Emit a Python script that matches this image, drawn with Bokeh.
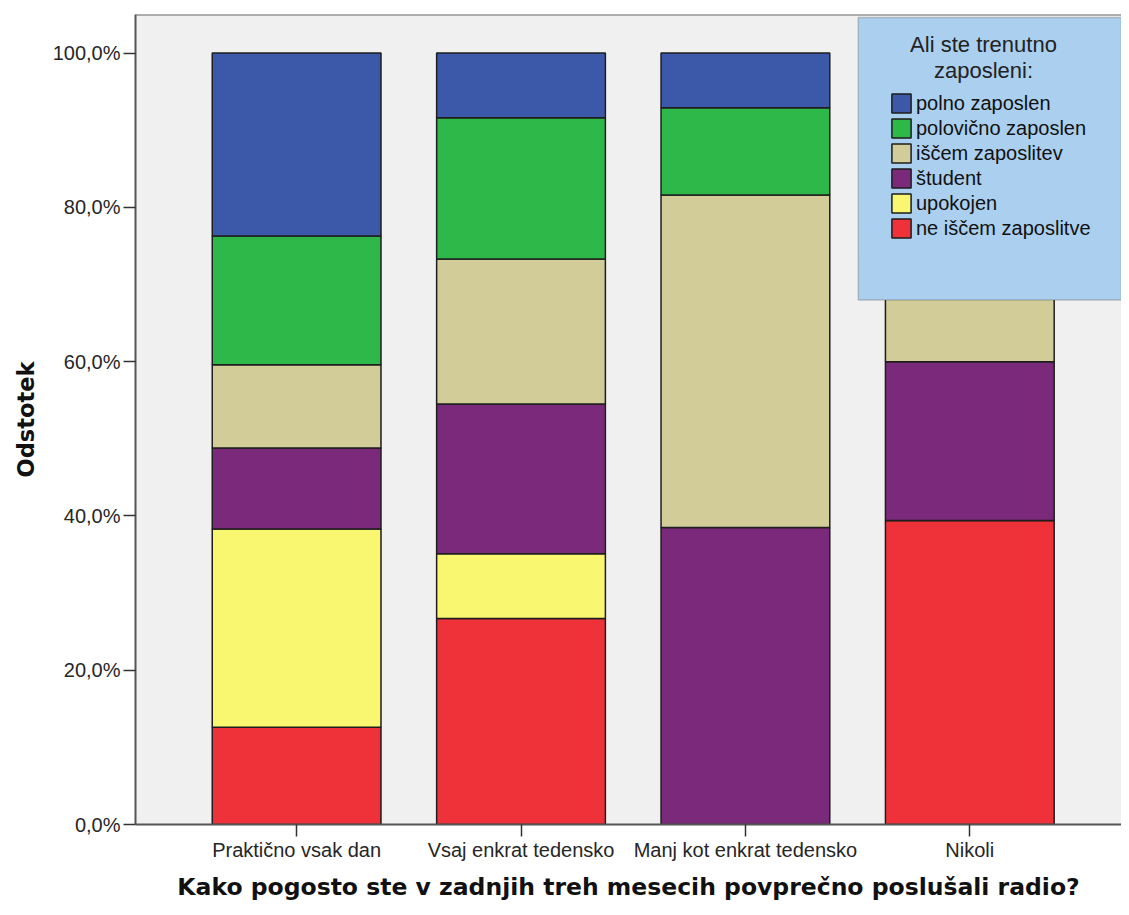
from bokeh.plotting import figure
from bokeh.models import (ColumnDataSource, Range1d, FixedTicker, Legend, LegendItem,
                          BoxAnnotation, Label, Span)
from bokeh.embed import file_html
from bokeh.resources import INLINE

# ---- data ----
categories = ["Praktično vsak dan", "Vsaj enkrat tedensko", "Manj kot enkrat tedensko", "Nikoli"]
series_names = ["ne iščem zaposlitve", "upokojen", "študent", "iščem zaposlitev",
                "polovično zaposlen", "polno zaposlen"]
ne_iscem = [12.6, 26.7, 0.0, 39.4]
upokojen = [25.7, 8.4, 0.0, 0.0]
student = [10.5, 19.4, 38.5, 20.6]
iscem = [10.8, 18.8, 43.1, 40.0]
polovicno = [16.7, 18.3, 11.3, 0.0]
polno = [23.7, 8.4, 7.1, 0.0]
colors = ["#ef323a", "#f9f66f", "#7b2a7b", "#d2cd98", "#2eb84a", "#3c58a9"]
y_ticks = [0, 20, 40, 60, 80, 100]
y_tick_labels = ["0,0%", "20,0%", "40,0%", "60,0%", "80,0%", "100,0%"]
legend_title = ["Ali ste trenutno", "zaposleni:"]
x_title = "Kako pogosto ste v zadnjih treh mesecih povprečno poslušali radio?"
y_title = "Odstotek"

keys = ["s0", "s1", "s2", "s3", "s4", "s5"]
xpos = list(range(len(categories)))
src = ColumnDataSource(dict(x=xpos, s0=ne_iscem, s1=upokojen, s2=student, s3=iscem,
                            s4=polovicno, s5=polno))

FONT = "Liberation Sans"
BOLD = "DejaVu Sans"

p = figure(width=1121, height=907, output_backend="svg", toolbar_location=None,
           x_range=Range1d(-0.718, 3.676), y_range=Range1d(0, 105),
           min_border_left=135, min_border_right=0, min_border_top=14, min_border_bottom=83)
p.background_fill_color = "#f0f0f0"
p.border_fill_color = "white"
p.outline_line_color = None
p.grid.visible = False

rs = p.vbar_stack(keys, x="x", width=0.752, source=src, color=colors,
                  line_color="#1e1e1e", line_width=1.5)

# axes
p.yaxis.ticker = FixedTicker(ticks=y_ticks)
p.yaxis.major_label_overrides = {t: l for t, l in zip(y_ticks, y_tick_labels)}
p.xaxis.ticker = FixedTicker(ticks=xpos)
p.xaxis.major_label_overrides = {i: c for i, c in zip(xpos, categories)}
for ax in (p.xaxis, p.yaxis):
    ax.axis_line_color = "#555555"
    ax.axis_line_width = 2
    ax.major_tick_line_color = "#333333"
    ax.major_tick_line_width = 1.5
    ax.major_tick_in = 0
    ax.major_tick_out = 12
    ax.minor_tick_line_color = None
    ax.major_label_text_font = FONT
    ax.major_label_text_font_size = "20px"
    ax.major_label_text_color = "#262626"
    ax.major_label_standoff = 3
    ax.axis_label_text_font = BOLD
    ax.axis_label_text_font_style = "bold"
    ax.axis_label_text_color = "#111111"
p.xaxis.major_label_standoff = 2
p.xaxis.axis_label = x_title
p.yaxis.axis_label = y_title
p.xaxis.axis_label_text_font_size = "23.5px"
p.yaxis.axis_label_text_font_size = "22.5px"
p.xaxis.axis_label_standoff = 9
p.yaxis.axis_label_standoff = 11

# top frame line
p.add_layout(Span(location=105, dimension="width", line_color="#666666", line_width=2))

# legend box
p.add_layout(BoxAnnotation(left=2.503, top=104.6, bottom=68.0, fill_color="#abcfee",
                           fill_alpha=1.0, line_color="#555555", line_width=1.5, level="annotation"))
p.add_layout(Label(x=3.061, y=101.1, text=legend_title[0], text_align="center",
                   text_baseline="middle", text_font=FONT, text_font_size="22px",
                   text_color="#222222"))
p.add_layout(Label(x=3.061, y=97.8, text=legend_title[1], text_align="center",
                   text_baseline="middle", text_font=FONT, text_font_size="22px",
                   text_color="#222222"))

items = [LegendItem(label=series_names[i], renderers=[rs[i]]) for i in reversed(range(6))]
leg = Legend(items=items, location=(754, 584), background_fill_alpha=0,
             border_line_color=None, padding=0, margin=0, spacing=1,
             glyph_width=24, glyph_height=24, label_height=19, label_standoff=3,
             label_text_font=FONT, label_text_font_size="20px", label_text_color="#111111")
p.add_layout(leg, "center")

open("out.html", "w").write(file_html(p, INLINE))
